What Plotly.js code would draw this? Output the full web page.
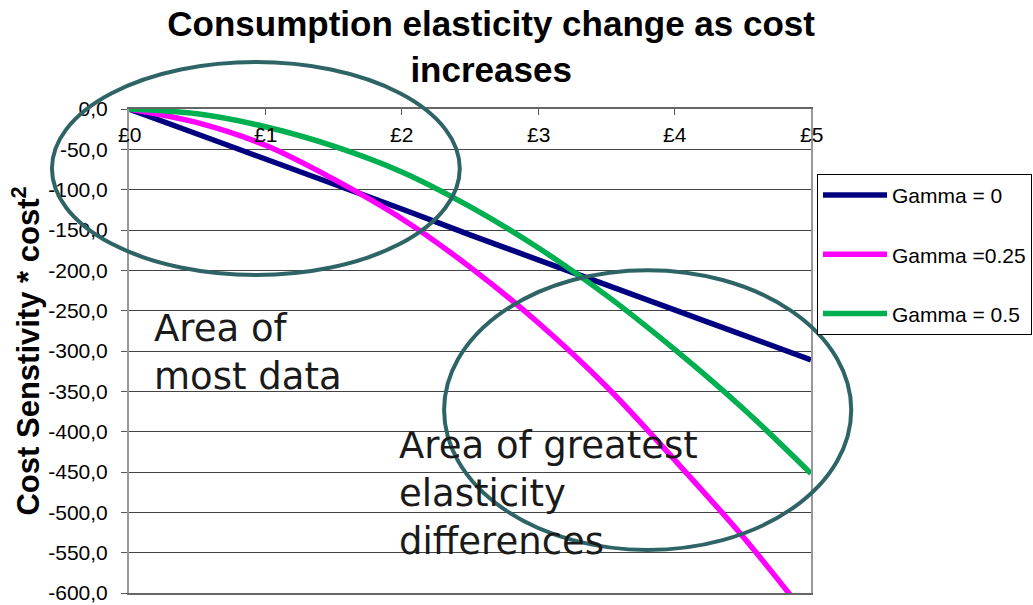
<!DOCTYPE html>
<html>
<head>
<meta charset="utf-8">
<script src="https://cdn.plot.ly/plotly-3.0.1.min.js"></script>
<style>html,body{margin:0;padding:0;background:#fff;}#chart{width:1033px;height:605px;}</style>
</head>
<body>
<div id="chart"></div>
<script>
// ---- data ----
var costs = [0, 0.5, 1, 1.5, 2, 2.5, 3, 3.5, 4, 4.5, 5];
var seriesNames = ['Gamma = 0', 'Gamma =0.25', 'Gamma = 0.5'];
var gamma0   = [0, -31, -62, -93, -124, -156, -187, -218, -249, -280, -311];
var gamma025 = [0, -17, -45, -87, -136, -196, -265, -344, -435, -530, -635];
var gamma05  = [0, -6, -22, -46, -78, -121, -172, -231, -298, -371, -452];
var xTickVals = [0, 1, 2, 3, 4, 5];
var xTickText = ['£0', '£1', '£2', '£3', '£4', '£5'];
var yTickVals = [0, -50, -100, -150, -200, -250, -300, -350, -400, -450, -500, -550, -600];
var yTickText = ['0,0', '-50,0', '-100,0', '-150,0', '-200,0', '-250,0', '-300,0', '-350,0', '-400,0', '-450,0', '-500,0', '-550,0', '-600,0'];
var noteLeft = 'Area of<br>most data';
var noteRight = 'Area of greatest<br>elasticity<br>differences';

var colors = ['#000080', '#FF00FF', '#00B050'];
var ys = [gamma0, gamma025, gamma05];
var traces = ys.map(function (y, i) {
  return {
    type: 'scatter', mode: 'lines', x: costs, y: y, name: seriesNames[i],
    legendgroup: 'g' + i,
    line: {color: colors[i], width: 5.5, shape: 'spline'},
    hoverinfo: 'skip'
  };
});

var noteFont = {family: 'Verdana, "DejaVu Sans", sans-serif', size: 37, color: '#1a1a1a'};
var annotations = [
  {text: noteLeft, xref: 'paper', yref: 'paper', x: 0.034, y: 0.496, xanchor: 'left', yanchor: 'middle',
   align: 'left', showarrow: false, font: noteFont},
  {text: noteRight, xref: 'paper', yref: 'paper', x: 0.393, y: 0.206, xanchor: 'left', yanchor: 'middle',
   align: 'left', showarrow: false, font: noteFont}
];
// x tick labels placed just under the top axis line, at the axis positions
xTickVals.forEach(function (v, i) {
  annotations.push({
    text: xTickText[i], xref: 'x', yref: 'paper', x: v, y: 1, xanchor: 'center', yanchor: 'top',
    yshift: -12, showarrow: false, font: {family: 'Arial, "Liberation Sans", sans-serif', size: 21, color: '#000'}
  });
});

var ellipseColor = '#2F6466';
var layout = {
  width: 1033, height: 605,
  margin: {l: 129, r: 222, t: 109, b: 12, autoexpand: false},
  paper_bgcolor: '#ffffff', plot_bgcolor: '#ffffff',
  font: {family: 'Arial, "Liberation Sans", sans-serif', color: '#000'},
  title: {
    text: 'Consumption elasticity change as cost<br>increases',
    font: {family: 'Arial, "Liberation Sans", sans-serif', size: 35, weight: 'bold', color: '#000'},
    x: 0.531, xref: 'paper', xanchor: 'center',
    y: 0.94, yref: 'container', yanchor: 'top'
  },
  xaxis: {
    side: 'top', range: [0, 5], tickvals: xTickVals,
    ticks: 'inside', ticklen: 6, tickcolor: '#555', tickwidth: 1,
    showticklabels: false, automargin: false,
    showline: true, linecolor: '#666', linewidth: 2, mirror: true,
    showgrid: false, zeroline: false, fixedrange: true
  },
  yaxis: {
    range: [-600, 0], tickvals: yTickVals, ticktext: yTickText,
    ticks: 'outside', ticklen: 6, tickcolor: '#555',
    ticklabelstandoff: 9, automargin: false,
    tickfont: {size: 21, color: '#000'},
    showline: true, linecolor: '#999', linewidth: 2, mirror: true,
    showgrid: true, gridcolor: '#444', gridwidth: 1, zeroline: false,
    title: {text: 'Cost Senstivity * cost<sup>2</sup>', font: {size: 31, weight: 'bold', color: '#000'}},
    fixedrange: true
  },
  showlegend: true,
  legend: {
    x: 1.0088, y: 0.866, xanchor: 'left', yanchor: 'top',
    bordercolor: '#000', borderwidth: 1, bgcolor: '#fff',
    font: {size: 21, color: '#000'},
    traceorder: 'grouped', tracegroupgap: 29, itemwidth: 64
  },
  shapes: [
    {type: 'circle', xref: 'paper', yref: 'paper', x0: -0.113, x1: 0.485, y0: 0.657, y1: 1.097,
     line: {color: ellipseColor, width: 4}, layer: 'above'},
    {type: 'circle', xref: 'paper', yref: 'paper', x0: 0.462, x1: 1.059, y0: 0.089, y1: 0.667,
     line: {color: ellipseColor, width: 4}, layer: 'above'}
  ],
  annotations: annotations
};

Plotly.newPlot('chart', traces, layout, {displayModeBar: false, staticPlot: true});
</script>
</body>
</html>
